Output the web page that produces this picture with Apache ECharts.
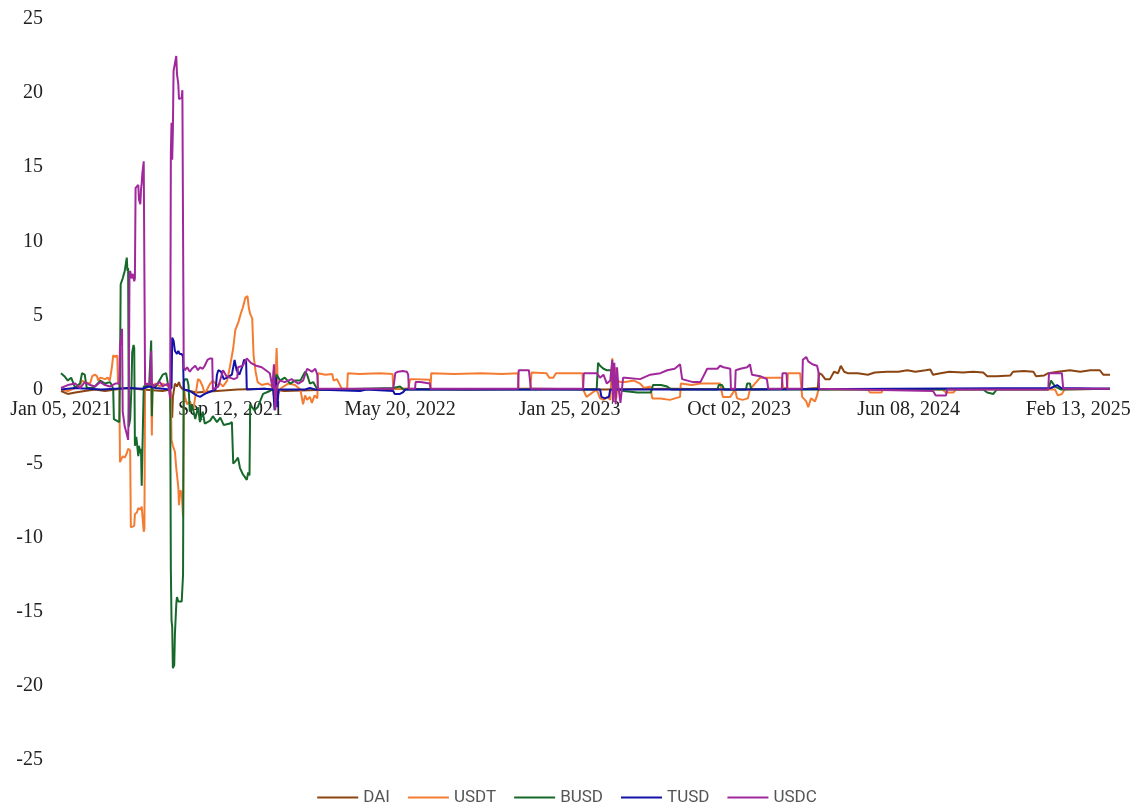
<!DOCTYPE html>
<html>
<head>
<meta charset="utf-8">
<title>Stablecoin spreads</title>
<script src="https://cdn.jsdelivr.net/npm/echarts@6/dist/echarts.min.js"></script>
<style>
  html, body { margin: 0; padding: 0; background: #ffffff; }
  #chart { width: 1134px; height: 812px; }
</style>
</head>
<body>
<div id="chart"></div>
<script>
// Daily observations starting 2021-01-05; each series is a list of [dayIndex, value].
const START_DATE = '2021-01-05';
const DAY_COUNT = 1548;
const LABEL_EVERY = 250;

const seriesNames = ['DAI', 'USDT', 'BUSD', 'TUSD', 'USDC'];
const seriesColors = ['#8B4513', '#F47C32', '#16692A', '#1212A8', '#A0289C'];

const DAI = [
  [0,-0.1],[10,-0.3],[21,-0.2],[35,-0.1],[50,0.0],[65,-0.1],[80,0.0],[100,0.1],[120,0.0],[150,-0.1],
  [161,0.0],[162,-1.6],[164,-1.9],[165,-0.5],[168,0.4],[171,0.2],[174,0.5],[176,0.2],[180,0.0],
  [200,-0.2],[230,-0.1],[260,0.0],[300,0.05],[330,-0.1],[400,0.0],[500,0.05],[600,0.0],[700,0.05],
  [800,0.0],[900,0.05],[1000,0.0],[1100,0.05],[1116,0.1],[1118,1.1],[1122,1.0],[1127,0.7],[1134,0.7],
  [1140,1.2],[1146,1.1],[1150,1.6],[1152,1.7],[1155,1.2],[1160,1.1],[1175,1.1],[1190,1.0],[1200,1.15],
  [1218,1.2],[1235,1.2],[1248,1.3],[1260,1.2],[1275,1.3],[1282,1.35],[1286,1.0],[1297,1.1],[1310,1.2],
  [1330,1.15],[1345,1.2],[1360,1.15],[1366,0.9],[1380,0.9],[1400,0.95],[1404,1.2],[1420,1.25],[1434,1.2],
  [1438,0.9],[1450,0.95],[1456,1.1],[1470,1.2],[1488,1.3],[1503,1.2],[1518,1.3],[1532,1.3],[1537,1.0],[1547,1.0]
];

const USDT = [
  [0,0.0],[10,-0.1],[21,0.1],[28,0.3],[31,0.6],[35,0.5],[43,0.4],[46,0.9],[50,1.0],[53,0.9],[55,0.6],
  [58,0.8],[65,0.7],[69,0.8],[72,0.6],[75,1.5],[77,2.3],[80,2.2],[83,2.3],[84,0.5],[86,0.3],[87,-4.9],
  [89,-4.7],[91,-4.5],[94,-4.6],[97,-4.3],[99,-4.0],[102,-4.1],[103,-9.3],[105,-9.3],[108,-9.2],[109,-8.4],
  [112,-8.3],[114,-8.0],[117,-8.1],[119,-7.9],[121,-8.0],[122,-9.6],[123,-9.4],[124,0.3],[130,0.2],[133,0.4],
  [134,-3.1],[135,0.3],[140,0.4],[146,0.2],[150,0.4],[155,0.3],[160,0.2],[162,-0.3],[163,-3.4],[165,-3.8],
  [168,-4.2],[170,-5.3],[173,-6.6],[174,-7.8],[176,-6.8],[178,-7.0],[180,-8.6],[181,0.2],[183,-0.5],[186,-1.0],
  [190,-0.8],[195,-1.4],[198,-0.5],[202,0.7],[205,0.6],[209,0.2],[212,-0.3],[220,0.4],[224,0.6],[230,0.3],
  [235,0.4],[239,0.2],[245,0.6],[249,1.5],[254,2.8],[257,4.0],[262,4.6],[265,5.1],[268,5.5],[272,6.2],
  [275,6.3],[277,5.5],[279,5.1],[282,4.8],[284,2.3],[287,1.2],[290,0.5],[296,0.3],[305,0.4],[312,0.2],
  [315,-0.8],[318,2.8],[320,-0.3],[325,0.1],[335,0.4],[345,0.3],[353,0.0],[357,-1.0],[360,-0.4],[363,-0.7],
  [367,-0.5],[370,-0.9],[374,-0.4],[378,-0.6],[379,1.1],[390,1.0],[400,1.05],[402,0.6],[407,0.7],[414,0.05],
  [422,0.05],[423,1.1],[440,1.05],[470,1.1],[489,1.05],[490,0.05],[512,0.05],[515,0.7],[520,0.7],[544,0.65],
  [545,0.05],[546,1.1],[580,1.05],[620,1.1],[650,1.05],[674,1.1],[675,0.05],[692,0.05],[694,1.15],[716,1.1],
  [720,0.8],[726,0.8],[730,1.1],[769,1.1],[770,0.0],[775,-0.5],[790,0.0],[795,-0.6],[800,-0.7],[806,-0.5],
  [810,-0.7],[813,2.1],[815,-0.8],[817,1.5],[819,-0.6],[821,0.6],[825,0.5],[832,0.5],[845,0.6],[854,0.4],
  [860,0.1],[869,0.2],[872,-0.6],[884,-0.6],[898,-0.7],[913,-0.5],[914,0.4],[930,0.3],[943,0.4],[960,0.4],
  [972,0.4],[976,-0.5],[987,-0.5],[994,0.0],[997,-0.6],[1005,-0.7],[1013,-0.6],[1016,0.0],[1031,0.8],
  [1045,0.8],[1063,0.8],[1065,0.1],[1071,0.1],[1072,1.1],[1090,1.1],[1093,-0.5],[1099,-0.8],[1102,-1.2],
  [1106,-0.6],[1112,-0.8],[1115,-0.4],[1117,0.0],[1190,0.0],[1193,-0.2],[1210,-0.2],[1212,0.0],[1300,0.0],
  [1305,-0.2],[1316,-0.2],[1320,0.0],[1466,0.0],[1470,-0.4],[1476,-0.3],[1480,0.0],[1547,0.05]
];

const BUSD = [
  [0,1.1],[5,0.9],[10,0.6],[15,0.8],[21,0.1],[25,0.3],[28,0.4],[31,1.1],[35,1.0],[38,0.1],[45,0.1],
  [50,0.2],[58,0.6],[65,0.4],[72,0.5],[75,0.3],[77,0.0],[78,-2.0],[82,-2.1],[86,-2.2],[87,1.0],[88,7.1],
  [91,7.5],[94,8.0],[97,8.9],[98,8.0],[99,8.2],[100,-2.5],[102,-2.0],[104,0.3],[105,2.5],[107,3.0],
  [108,2.8],[109,-3.8],[111,-3.2],[112,-3.6],[114,-4.5],[115,-3.8],[117,-4.3],[118,-4.0],[119,-6.5],
  [121,-6.6],[122,0.2],[130,0.3],[133,3.3],[134,-1.8],[135,0.3],[140,0.2],[150,1.0],[155,1.1],[158,0.3],
  [161,0.1],[162,-12.2],[163,-15.6],[164,-16.0],[165,-18.8],[167,-18.6],[168,-16.5],[170,-14.5],[171,-14.0],
  [173,-14.3],[175,-14.2],[178,-14.3],[180,-12.5],[181,0.5],[183,0.7],[186,0.7],[188,0.3],[190,-1.5],
  [193,-1.0],[198,-2.0],[202,-1.2],[205,-2.2],[209,-1.5],[212,-2.3],[220,-2.1],[224,-1.8],[230,-2.2],
  [235,-1.9],[240,-2.4],[249,-2.3],[252,-2.2],[254,-5.0],[258,-4.8],[261,-4.6],[264,-5.3],[268,-5.7],
  [271,-5.9],[274,-6.1],[276,-5.6],[278,-5.8],[279,-1.0],[285,-1.4],[290,-1.2],[298,-0.3],[308,-0.1],
  [312,0.0],[314,1.3],[316,0.2],[318,1.0],[323,0.6],[330,0.8],[338,0.4],[345,0.6],[353,0.6],[360,1.2],
  [363,1.0],[367,0.4],[372,0.5],[378,0.0],[400,0.0],[490,0.1],[500,0.2],[505,0.0],[790,0.0],[792,1.8],
  [795,1.6],[800,1.4],[805,1.3],[812,1.3],[814,0.1],[830,-0.1],[850,-0.2],[870,-0.2],[873,0.3],[885,0.3],
  [894,0.2],[900,0.0],[968,0.0],[970,0.3],[975,0.3],[978,0.0],[1010,0.0],[1012,0.4],[1016,0.4],[1018,0.0],
  [1360,0.0],[1366,-0.2],[1375,-0.3],[1380,0.0],[1456,0.0],[1460,0.6],[1466,0.2],[1475,0.0],[1547,0.05]
];

const TUSD = [
  [0,0.0],[20,0.1],[40,0.05],[60,0.0],[80,0.05],[100,0.1],[120,0.05],[130,0.2],[140,0.1],[150,0.05],
  [160,0.0],[163,0.1],[164,3.5],[166,3.3],[168,2.6],[171,2.4],[173,2.6],[175,2.4],[178,2.4],[180,2.2],
  [181,0.0],[190,-0.1],[200,-0.4],[205,-0.5],[212,-0.3],[228,0.0],[230,1.0],[232,1.3],[236,1.2],[240,0.7],
  [245,0.8],[252,1.0],[256,2.0],[259,1.3],[263,1.0],[267,1.5],[270,2.0],[273,1.9],[274,0.0],[300,0.05],
  [313,0.0],[315,-1.4],[317,0.8],[319,-1.2],[321,0.0],[360,0.0],[367,0.1],[375,0.0],[441,-0.1],[450,0.0],
  [490,-0.1],[492,-0.3],[500,-0.3],[504,-0.2],[508,0.0],[795,0.0],[797,-0.5],[802,-0.6],[808,-0.5],
  [810,0.0],[1000,0.0],[1460,0.1],[1469,0.3],[1475,0.1],[1547,0.05]
];

const USDC = [
  [0,0.1],[10,0.3],[21,0.4],[28,0.1],[35,0.5],[43,0.3],[50,0.2],[58,0.5],[65,0.3],[72,0.2],[80,0.4],
  [86,0.4],[87,3.0],[89,3.6],[90,4.1],[91,-1.5],[94,-2.5],[97,-3.0],[99,-3.4],[100,-1.0],[101,7.8],
  [102,8.0],[104,7.5],[106,7.8],[108,7.3],[109,7.5],[110,13.6],[112,13.5],[114,13.8],[115,12.8],[117,12.5],
  [118,13.5],[119,13.9],[120,14.6],[121,14.5],[122,15.4],[123,15.4],[124,0.3],[127,0.4],[131,0.3],[133,2.6],
  [134,0.4],[136,0.2],[139,0.3],[146,0.5],[150,0.2],[153,0.3],[158,0.4],[161,-0.6],[162,16.0],[163,18.0],
  [164,15.5],[165,17.5],[166,21.5],[168,22.0],[170,22.5],[171,21.3],[173,20.6],[174,19.6],[176,19.6],
  [178,19.7],[179,20.2],[180,20.1],[181,1.5],[183,1.3],[186,1.5],[190,1.2],[193,1.4],[198,1.6],[202,1.3],
  [205,1.5],[209,1.4],[212,1.6],[216,2.0],[220,2.1],[223,2.1],[224,0.0],[232,0.2],[239,1.3],[244,0.9],
  [249,0.8],[255,0.7],[260,0.8],[261,1.5],[268,1.6],[274,2.1],[280,1.8],[288,1.6],[296,1.5],[302,1.3],
  [308,1.1],[312,0.1],[314,1.7],[316,-1.4],[318,0.2],[323,0.6],[330,0.5],[340,0.7],[350,0.4],[357,0.6],
  [363,1.4],[370,1.2],[375,1.4],[378,1.0],[379,0.05],[490,0.05],[493,1.1],[497,1.2],[504,1.25],[510,1.2],
  [512,1.0],[513,0.05],[522,0.05],[523,0.5],[530,0.5],[544,0.4],[545,0.05],[674,0.05],[675,1.3],[690,1.3],
  [692,1.3],[693,0.05],[770,0.05],[771,1.1],[790,1.1],[792,1.2],[795,0.8],[800,1.0],[805,0.4],[810,0.6],
  [813,2.0],[814,-0.8],[816,1.8],[818,-1.0],[820,1.5],[822,0.2],[825,-0.9],[829,0.8],[832,0.8],[854,0.7],
  [869,1.0],[884,1.1],[894,1.3],[905,1.4],[913,1.7],[916,0.7],[932,0.5],[943,0.5],[953,1.4],[968,1.4],
  [972,1.6],[977,1.5],[987,1.4],[988,0.05],[994,0.05],[995,1.3],[1002,1.4],[1012,1.5],[1016,1.7],[1019,1.0],
  [1031,0.9],[1041,0.7],[1043,0.05],[1063,0.05],[1064,1.1],[1070,1.1],[1071,0.05],[1093,0.05],[1094,2.0],
  [1099,2.2],[1102,1.9],[1108,1.7],[1115,1.6],[1117,1.2],[1118,0.05],[1286,-0.1],[1290,-0.4],[1305,-0.4],
  [1307,0.0],[1456,0.0],[1457,1.1],[1476,1.1],[1478,0.05],[1547,0.05]
];

const seriesData = [DAI, USDT, BUSD, TUSD, USDC];

// Category labels: one per day, e.g. "Jan 05, 2021".
const MONTHS = ['Jan','Feb','Mar','Apr','May','Jun','Jul','Aug','Sep','Oct','Nov','Dec'];
function buildDates(start, count) {
  const out = [];
  const t0 = Date.parse(start + 'T00:00:00Z');
  for (let i = 0; i < count; i++) {
    const d = new Date(t0 + i * 86400000);
    const dd = String(d.getUTCDate()).padStart(2, '0');
    out.push(MONTHS[d.getUTCMonth()] + ' ' + dd + ', ' + d.getUTCFullYear());
  }
  return out;
}
const dates = buildDates(START_DATE, DAY_COUNT);

const serif = '"Liberation Serif", "DejaVu Serif", serif';
const Y_MIN = -25;
const Y_MAX = 25;

const chart = echarts.init(document.getElementById('chart'), null, { renderer: 'canvas' });
chart.setOption({
  animation: false,
  backgroundColor: '#ffffff',
  grid: { left: 61, right: 24, top: 19, bottom: 52, containLabel: false },
  legend: {
    bottom: 1,
    left: 'center',
    icon: 'rect',
    itemWidth: 41,
    itemHeight: 2,
    itemGap: 18,
    textStyle: { fontFamily: 'Roboto, "Noto Sans", sans-serif', fontSize: 17, color: '#555555' },
    data: seriesNames
  },
  xAxis: {
    type: 'category',
    data: dates,
    boundaryGap: false,
    position: 'bottom',
    offset: 0,
    axisLine: { show: false, onZero: false },
    axisTick: { show: false },
    splitLine: { show: false },
    axisLabel: {
      interval: LABEL_EVERY - 1,
      fontFamily: serif,
      fontSize: 20,
      color: '#222222',
      margin: 10
    }
  },
  yAxis: {
    type: 'value',
    min: Y_MIN,
    max: Y_MAX,
    interval: 5,
    axisLine: { show: false },
    axisTick: { show: false },
    splitLine: { show: false },
    axisLabel: { fontFamily: serif, fontSize: 20, color: '#222222', margin: 18 }
  },
  series: seriesNames.map((name, i) => ({
    name,
    type: 'line',
    data: seriesData[i],
    showSymbol: false,
    symbol: 'none',
    smooth: false,
    sampling: null,
    color: seriesColors[i],
    lineStyle: { width: 2, color: seriesColors[i] },
    emphasis: { disabled: true }
  }))
});

// Move the category axis up so it crosses the value axis at zero.
const zeroPx = chart.convertToPixel({ yAxisIndex: 0 }, 0);
const bottomPx = chart.convertToPixel({ yAxisIndex: 0 }, Y_MIN);
chart.setOption({ xAxis: { offset: zeroPx - bottomPx } });
</script>
</body>
</html>
